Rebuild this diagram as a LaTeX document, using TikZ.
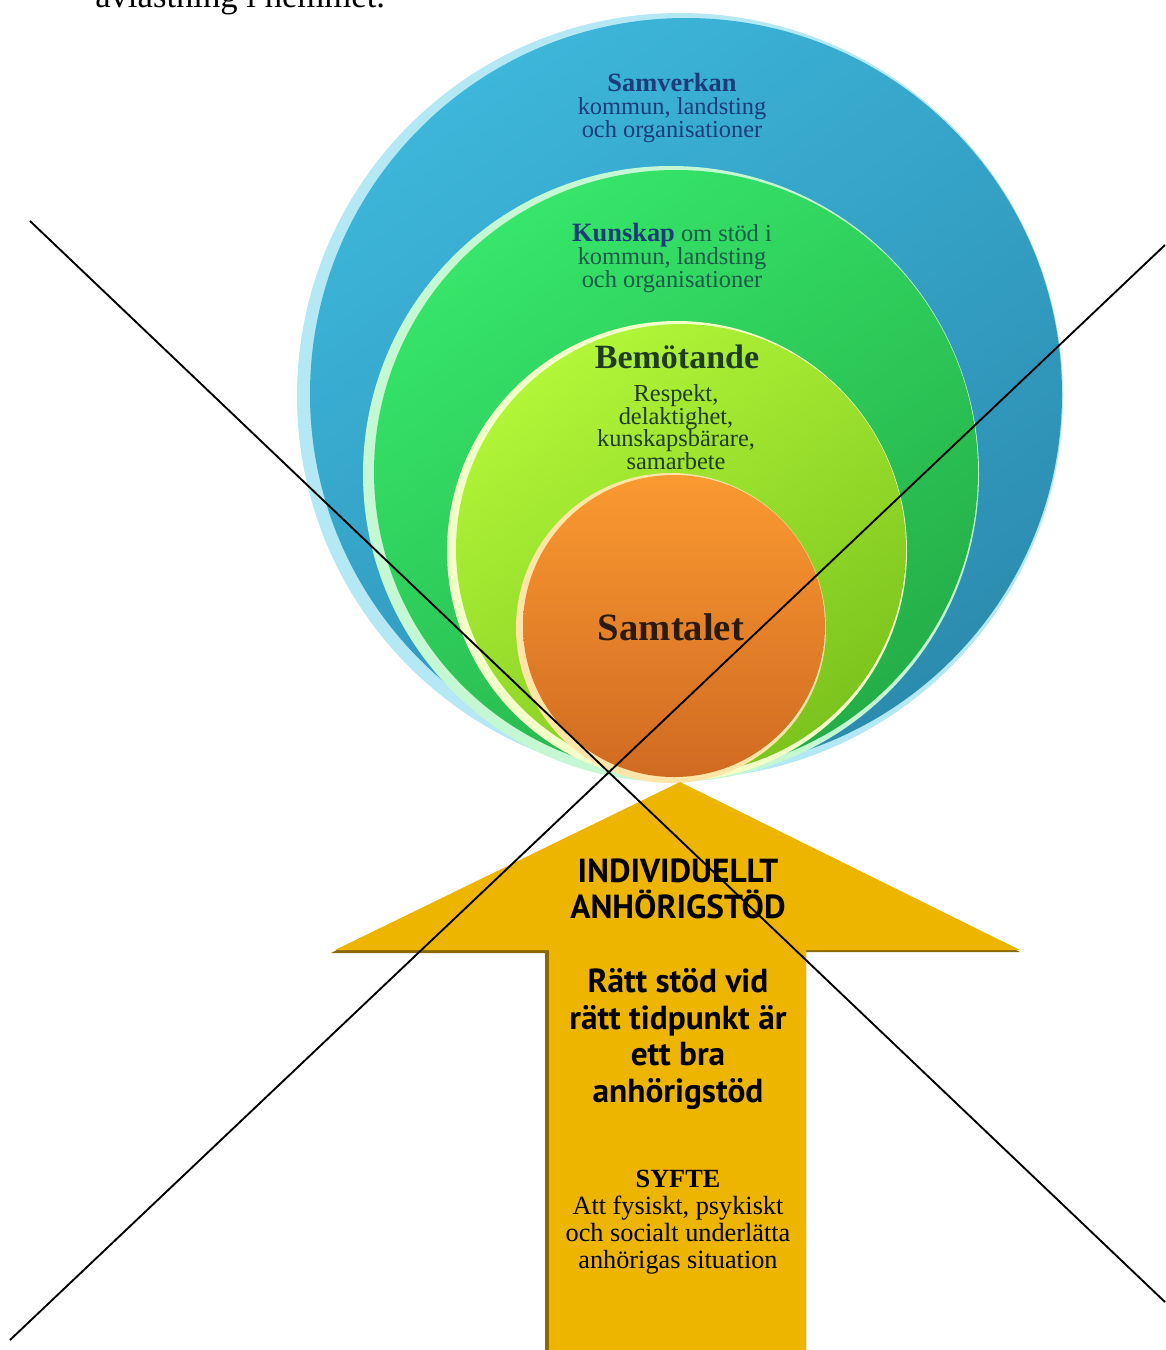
\documentclass[tikz,border=0pt]{standalone}
\usepackage{fontspec}
\setmainfont{Liberation Serif}
\newfontfamily\arrowfont{PT Sans}
\usetikzlibrary{positioning}

\definecolor{ballblue}{HTML}{3CB6DA}
\definecolor{ballbluedark}{HTML}{2C8CB0}
\definecolor{rimblue}{HTML}{B4E8F4}
\definecolor{ballgreen}{HTML}{36E66A}
\definecolor{ballgreendark}{HTML}{25AE48}
\definecolor{rimgreen}{HTML}{C4F8D2}
\definecolor{balllime}{HTML}{B2F638}
\definecolor{balllimedark}{HTML}{7CC41E}
\definecolor{rimlime}{HTML}{F2FFC8}
\definecolor{ballorange}{HTML}{FA9A30}
\definecolor{ballorangedark}{HTML}{D06A22}
\definecolor{rimorange}{HTML}{FFE6A8}
\definecolor{arrowgold}{HTML}{EDB500}
\definecolor{arrowshade}{HTML}{8A6A00}
\definecolor{navytext}{HTML}{1B3C78}
\definecolor{tealtext}{HTML}{1A5A48}
\definecolor{darkgreen}{HTML}{1F3B22}
\definecolor{darkbrown}{HTML}{2B1B0E}

\begin{document}
\begin{tikzpicture}[x=0.75pt, y=-0.75pt,
    ringtext/.style={align=center, inner sep=0pt, font=\fontsize{18.3}{17}\selectfont},
    arrowtext/.style={align=center, inner sep=0pt, font=\arrowfont\bfseries\fontsize{25}{27.5}\selectfont},
    crossline/.style={draw=black, line width=1.4pt}]
\useasboundingbox (0,0) rectangle (1165,1350);

% top line of the page text
\node[anchor=base west, inner sep=0pt, font=\fontsize{26}{30}\selectfont] (pagetext) at (95,7) {avlastning i hemmet.};

% rings
\fill[rimblue] (680,396) circle (383);
\shade[top color=ballblue, bottom color=ballbluedark, shading angle=35] (686,394) circle (376);
\fill[rimgreen] (671,474) circle (308);
\shade[top color=ballgreen, bottom color=ballgreendark, shading angle=35] (676,472) circle (302);
\fill[rimlime] (677,551) circle (230);
\shade[top color=balllime, bottom color=balllimedark, shading angle=35] (681,549) circle (225);
\fill[rimorange] (671,628) circle (155);
\shade[top color=ballorange, bottom color=ballorangedark] (674,626) circle (151);

% arrow
\fill[arrowshade] (677,785) -- (1020,952) -- (806,952) -- (806,1350) -- (545,1350) -- (545,953) -- (331,953) -- cycle;
\fill[arrowgold] (680,782) -- (1020,950) -- (806,950) -- (806,1350) -- (549,1350) -- (549,950) -- (335,950) -- cycle;

% ring texts
\node[ringtext, text=navytext] (samverkan) at (672,108) {{\fontsize{19.8}{17}\selectfont\bfseries Samverkan}\\kommun, landsting\\och organisationer};
\node[ringtext, text=tealtext] (kunskap) at (672,258) {{\color{navytext}\fontsize{19.8}{17}\selectfont\bfseries Kunskap} om stöd i\\kommun, landsting\\och organisationer};
\node[ringtext, text=darkgreen, font=\bfseries\fontsize{25.5}{28}\selectfont] (bemotande) at (677,357) {Bemötande};
\node[ringtext, text=darkgreen, font=\fontsize{18.3}{16.9}\selectfont] (respekt) at (676,427) {Respekt,\\delaktighet,\\kunskapsbärare,\\samarbete};
\node[ringtext, text=darkbrown, font=\bfseries\fontsize{29}{30}\selectfont] (samtalet) at (671,627) {Samtalet};

% arrow texts
\node[arrowtext] (individuellt) at (678,889) {INDIVIDUELLT\\ANHÖRIGSTÖD};
\node[arrowtext] (rattstod) at (678,1039) {Rätt stöd vid\\rätt tidpunkt är\\ett bra\\anhörigstöd};
\node[ringtext, font=\fontsize{19.7}{20.3}\selectfont] (syfte) at (678,1222) {\textbf{SYFTE}\\Att fysiskt, psykiskt\\och socialt underlätta\\anhörigas situation};

% cross
\coordinate (crossA1) at (30,221);
\coordinate (crossA2) at (1165,1302);
\coordinate (crossB1) at (10,1340);
\coordinate (crossB2) at (1165,245);
\draw[crossline] (crossA1) -- (crossA2);
\draw[crossline] (crossB1) -- (crossB2);
\end{tikzpicture}
\end{document}
